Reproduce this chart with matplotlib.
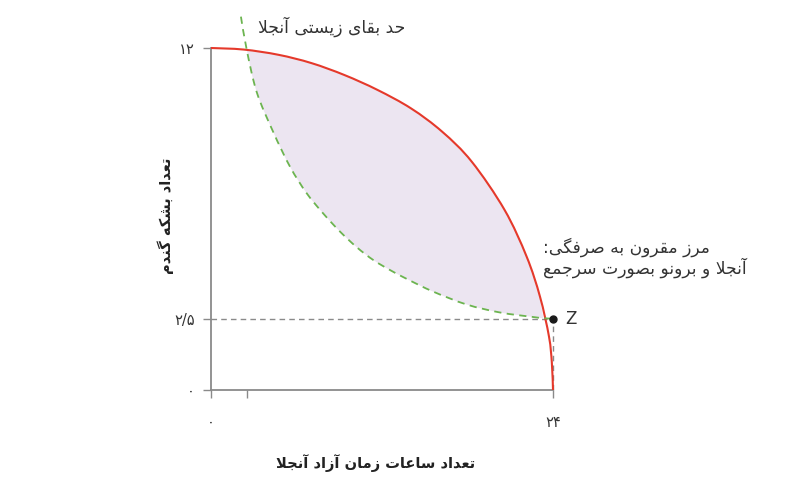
import matplotlib
matplotlib.use("Agg")
import matplotlib.pyplot as plt
from matplotlib.path import Path
from matplotlib.patches import PathPatch

# --- data ---
red_x = [0, 2.3, 4.75, 7.05, 9.37, 11.68, 14.04, 16.23, 18.3, 20.6, 22.15, 23.09, 23.72, 23.92, 24]
red_y = [12, 11.945, 11.76, 11.47, 11.05, 10.53, 9.88, 9.06, 8.01, 6.32, 4.68, 3.27, 1.87, 0.95, 0]

green_x = [2.1, 2.51, 3.21, 4.37, 5.54, 6.72, 7.9, 9.07, 10.25, 11.39, 12.56, 13.73,
           15.6, 17.94, 20.28, 22.62, 23.32, 24]
green_y = [13.1, 11.93, 10.45, 9.05, 7.84, 6.9, 6.18, 5.55, 5.0, 4.56, 4.21, 3.9,
           3.45, 3.0, 2.72, 2.56, 2.52, 2.5]

z_x, z_y = 24, 2.5

x_ticks = [0, 2.5, 24]
x_labels = ["۰", "", "۲۴"]
y_ticks = [0, 2.5, 12]
y_labels = ["۰", "۲/۵", "۱۲"]

label_survival = "حد بقای زیستی آنجلا"
label_frontier = ["مرز مقرون به صرفگی:", "آنجلا و برونو بصورت سرجمع"]
label_x = "تعداد ساعات زمان آزاد آنجلا"
label_y = "تعداد بشکه گندم"

# --- arabic/persian shaping (matplotlib has no text shaping) ---
# isolated, final, initial, medial
FORMS = {
    'ا': ('\uFE8D', '\uFE8E', None, None),
    'آ': ('\uFE81', '\uFE82', None, None),
    'ب': ('\uFE8F', '\uFE90', '\uFE91', '\uFE92'),
    'ت': ('\uFE95', '\uFE96', '\uFE97', '\uFE98'),
    'ج': ('\uFE9D', '\uFE9E', '\uFE9F', '\uFEA0'),
    'ح': ('\uFEA1', '\uFEA2', '\uFEA3', '\uFEA4'),
    'د': ('\uFEA9', '\uFEAA', None, None),
    'ر': ('\uFEAD', '\uFEAE', None, None),
    'ز': ('\uFEAF', '\uFEB0', None, None),
    'س': ('\uFEB1', '\uFEB2', '\uFEB3', '\uFEB4'),
    'ش': ('\uFEB5', '\uFEB6', '\uFEB7', '\uFEB8'),
    'ص': ('\uFEB9', '\uFEBA', '\uFEBB', '\uFEBC'),
    'ع': ('\uFEC9', '\uFECA', '\uFECB', '\uFECC'),
    'ف': ('\uFED1', '\uFED2', '\uFED3', '\uFED4'),
    'ق': ('\uFED5', '\uFED6', '\uFED7', '\uFED8'),
    'ل': ('\uFEDD', '\uFEDE', '\uFEDF', '\uFEE0'),
    'م': ('\uFEE1', '\uFEE2', '\uFEE3', '\uFEE4'),
    'ن': ('\uFEE5', '\uFEE6', '\uFEE7', '\uFEE8'),
    'ه': ('\uFEE9', '\uFEEA', '\uFEEB', '\uFEEC'),
    'و': ('\uFEED', '\uFEEE', None, None),
    'ی': ('\uFBFC', '\uFBFD', '\uFBFE', '\uFBFF'),
    'ک': ('\uFB8E', '\uFB8F', '\uFB90', '\uFB91'),
    'گ': ('\uFB92', '\uFB93', '\uFB94', '\uFB95'),
}
LAM_ALEF = {'ا': ('\uFEFB', '\uFEFC'), 'آ': ('\uFEF5', '\uFEF6')}


def dual(c):
    return c in FORMS and FORMS[c][2] is not None


def fa(text):
    out = []
    i = 0
    n = len(text)
    while i < n:
        c = text[i]
        if c not in FORMS:
            out.append(c)
            i += 1
            continue
        prev = text[i - 1] if i > 0 else ''
        link_prev = dual(prev)
        if c == 'ل' and i + 1 < n and text[i + 1] in LAM_ALEF:
            lig = LAM_ALEF[text[i + 1]]
            out.append(lig[1] if link_prev else lig[0])
            i += 2
            continue
        nxt = text[i + 1] if i + 1 < n else ''
        link_next = dual(c) and nxt in FORMS
        f = FORMS[c]
        if link_prev and link_next:
            out.append(f[3])
        elif link_prev:
            out.append(f[1])
        elif link_next:
            out.append(f[2])
        else:
            out.append(f[0])
        i += 1
    return ''.join(reversed(out))


def curve_verts(xs, ys, a, b):
    # smooth bezier segments through the read points a..b (catmull-rom)
    pts = list(zip(xs, ys))
    n = len(pts)
    verts = [pts[a]]
    for i in range(a, b):
        p0 = pts[max(i - 1, 0)]
        p1 = pts[i]
        p2 = pts[i + 1]
        p3 = pts[min(i + 2, n - 1)]
        c1 = (p1[0] + (p2[0] - p0[0]) / 6, p1[1] + (p2[1] - p0[1]) / 6)
        c2 = (p2[0] - (p3[0] - p1[0]) / 6, p2[1] - (p3[1] - p1[1]) / 6)
        verts += [c1, c2, p2]
    return verts


def open_path(verts):
    codes = [Path.MOVETO] + [Path.CURVE4] * (len(verts) - 1)
    return Path(verts, codes)


plt.rcParams['font.family'] = ['DejaVu Sans']

W, H = 810, 479
fig = plt.figure(figsize=(W / 100, H / 100), dpi=100)
# axes placed so that x 0..24 -> px 211..553 and y 0..12 -> px 390..48
ax = fig.add_axes([196.75 / W, (H - 404.25) / H, 384.75 / W, 399.0 / H])
ax.set_xlim(-1, 26)
ax.set_ylim(-0.5, 13.5)

gray = '#8a8a8a'

red_verts = curve_verts(red_x, red_y, 0, len(red_x) - 1)
green_verts = curve_verts(green_x, green_y, 0, len(green_x) - 1)

# shaded area between the two curves
upper = curve_verts(red_x, red_y, 1, 11)
lower = curve_verts(green_x, green_y, 1, len(green_x) - 2)[::-1]
fill_verts = upper + lower + [upper[0]]
fill_codes = ([Path.MOVETO] + [Path.CURVE4] * (len(upper) - 1) + [Path.LINETO]
              + [Path.CURVE4] * (len(lower) - 1) + [Path.CLOSEPOLY])
ax.add_patch(PathPatch(Path(fill_verts, fill_codes), facecolor='#ece5f1',
                       lw=0, zorder=1))

# reference lines to Z
ax.plot([0, z_x], [z_y, z_y], ls=(0, (4, 3)), color=gray, lw=1.0, zorder=2)
ax.plot([z_x, z_x], [0, z_y], ls=(0, (4, 3)), color=gray, lw=1.0, zorder=2)

ax.add_patch(PathPatch(open_path(red_verts), facecolor='none',
                       edgecolor='#e5392b', lw=1.5, zorder=3))
ax.add_patch(PathPatch(open_path(green_verts), facecolor='none',
                       edgecolor='#6cb450', lw=1.3, ls=(0, (4, 3)), zorder=3))
ax.plot([z_x], [z_y], 'o', color='#1a1a1a', ms=5, zorder=4)

for s in ['top', 'right']:
    ax.spines[s].set_visible(False)
ax.spines['left'].set_position(('data', 0))
ax.spines['bottom'].set_position(('data', 0))
ax.spines['left'].set_bounds(0, 12)
ax.spines['bottom'].set_bounds(0, 24)
for s in ['left', 'bottom']:
    ax.spines[s].set_color(gray)
    ax.spines[s].set_linewidth(1.3)

ax.set_xticks(x_ticks)
ax.set_xticklabels(x_labels)
ax.set_yticks(y_ticks)
ax.set_yticklabels(y_labels)
ax.tick_params(axis='both', direction='out', length=5.8, width=1.0, color=gray,
               labelsize=10.5, labelcolor='#333333')
ax.tick_params(axis='x', pad=12)
ax.tick_params(axis='y', pad=6)

txt = '#333333'
ax.annotate('Z', (z_x, z_y), xytext=(8.5, 0), textcoords='offset points',
            ha='left', va='center', fontsize=12, color=txt)

fig.text(332 / W, 1 - 27 / H, fa(label_survival), ha='center', va='center',
         fontsize=12.3, color=txt)
fig.text(543 / W, 1 - 247 / H, fa(label_frontier[0]), ha='left', va='center',
         fontsize=12.3, color=txt)
fig.text(543 / W, 1 - 268 / H, fa(label_frontier[1]), ha='left', va='center',
         fontsize=12.3, color=txt)

fig.text(376 / W, 1 - 463 / H, fa(label_x), ha='center', va='center',
         fontsize=10.5, fontweight='bold', color='#222222')
fig.text(166 / W, 1 - 216 / H, fa(label_y), ha='center', va='center',
         rotation=90, fontsize=10.5, fontweight='bold', color='#222222')

fig.savefig('out.png', dpi=100)
